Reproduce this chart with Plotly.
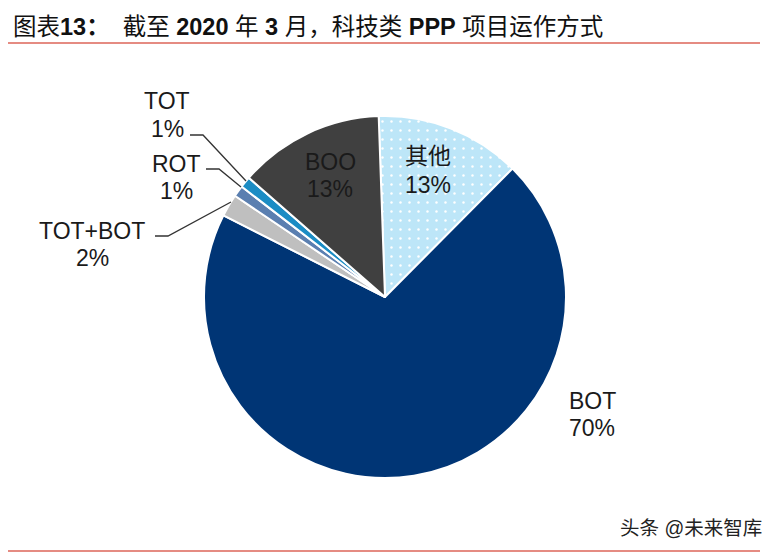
import plotly.graph_objects as go

W, H = 777, 555
categories = ["其他", "BOT", "TOT+BOT", "ROT", "TOT", "BOO"]
values = [13, 70, 2, 1, 1, 13]
colors = ["#BDE6F8", "#003575", "#BFBFBF", "#5B7FB0", "#1B8CC4", "#404040"]
patterns = [".", "", "", "", "", ""]
title_text = "图表<b>13</b><b>：</b>  截至 <b>2020</b> 年 <b>3</b> 月，科技类 <b>PPP</b> 项目运作方式"
source_text = "头条 @未来智库"
name_pos = {
    "其他": (428, 156), "BOT": (592, 401), "TOT+BOT": (92, 231),
    "ROT": (176, 164), "TOT": (167, 101), "BOO": (330, 162),
}
value_pos = {
    "其他": (428, 185), "BOT": (592, 428), "TOT+BOT": (92, 258),
    "ROT": (176, 191), "TOT": (167, 129), "BOO": (330, 189),
}
leaders = [
    [(155, 236), (168, 236), (231, 202)],
    [(206, 169), (219, 169), (241, 187)],
    [(190, 135), (203, 135), (246, 181)],
]
FONT = "Liberation Sans, Arial, Noto Sans CJK SC"

def px(x):
    return x / W

def py(y):
    return 1 - y / H

cx, cy, r = 385, 297, 181
fig = go.Figure(go.Pie(
    labels=categories, values=values, sort=False, direction="clockwise", rotation=-2,
    marker=dict(colors=colors, line=dict(color="white", width=2),
                pattern=dict(shape=patterns, fgcolor="white", bgcolor=colors, size=9, solidity=0.06,
                             fillmode="replace")),
    textinfo="none", hoverinfo="label+percent", showlegend=False,
    domain=dict(x=[px(cx - r), px(cx + r)], y=[py(cy + r), py(cy - r)]),
))

annotations = []
for name, val in zip(categories, values):
    for text, (x, y) in ((name, name_pos[name]), (f"{val}%", value_pos[name])):
        annotations.append(dict(text=text, x=px(x), y=py(y), xref="paper", yref="paper",
                                showarrow=False, xanchor="center", yanchor="middle", align="center",
                                font=dict(size=23, color="#1a1a1a", family=FONT)))
annotations.append(dict(text=title_text, x=px(11), y=py(27), xref="paper", yref="paper", showarrow=False,
                        xanchor="left", yanchor="middle", font=dict(size=23.5, color="#111111", family=FONT)))
annotations.append(dict(text=source_text, x=px(764), y=py(528), xref="paper", yref="paper", showarrow=False,
                        xanchor="right", yanchor="middle", font=dict(size=19.5, color="#222222", family=FONT)))

shapes = []
for y in (43, 551):
    shapes.append(dict(type="line", xref="paper", yref="paper", x0=px(8), x1=px(760), y0=py(y), y1=py(y),
                       line=dict(color="#E58B82", width=2)))
for pts in leaders:
    path = "M " + " L ".join(f"{px(x)} {py(y)}" for x, y in pts)
    shapes.append(dict(type="path", xref="paper", yref="paper", path=path,
                       line=dict(color="#333333", width=1.3)))

fig.update_layout(width=W, height=H, margin=dict(l=0, r=0, t=0, b=0), paper_bgcolor="white",
                  annotations=annotations, shapes=shapes)
fig.write_html("out.html", config=dict(displayModeBar=False),
               post_script="document.body.style.margin='0';document.body.style.overflow='hidden';")
